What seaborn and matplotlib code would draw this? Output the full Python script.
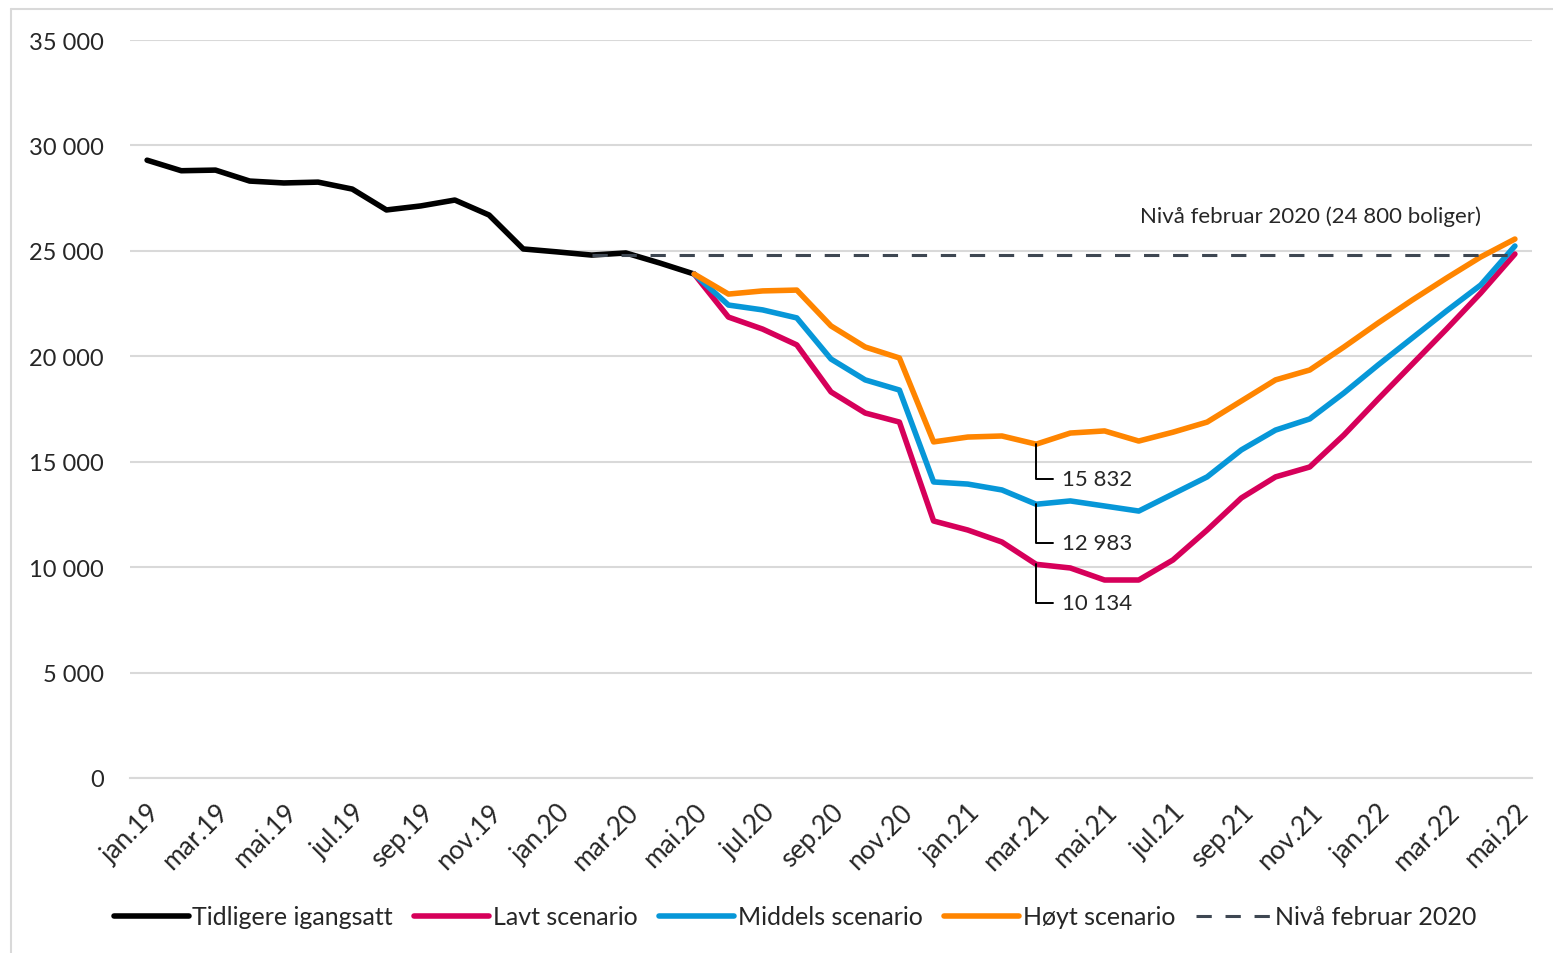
import numpy as np
import pandas as pd
import seaborn as sns
import matplotlib.pyplot as plt
from matplotlib.lines import Line2D

# ===============================
# Data
# ===============================
MONTHS = ["jan", "feb", "mar", "apr", "mai", "jun", "jul", "aug", "sep", "okt", "nov", "des"]
LABELS = [f"{m}.{y}" for y in (19, 20, 21) for m in MONTHS] + [f"{m}.22" for m in MONTHS[:5]]

tidligere = [29300, 28800, 28830, 28310, 28220, 28260, 27930, 26940, 27130, 27410,
             26700, 25090, 24950, 24800, 24900, 24420, 23900]

lavt = [23900, 21860, 21290, 20540, 18310, 17310, 16880, 12190, 11760, 11190, 10134,
        9960, 9390, 9390, 10340, 11760, 13280, 14280, 14750, 16270, 17970, 19630,
        21290, 23000, 24850]

middels = [23900, 22430, 22200, 21820, 19870, 18880, 18400, 14040, 13940, 13660, 12983,
           13140, 12900, 12660, 13470, 14280, 15560, 16500, 17030, 18260, 19590, 20870,
           22150, 23380, 25230]

hoyt = [23900, 22950, 23100, 23140, 21440, 20440, 19920, 15940, 16170, 16220, 15832,
        16360, 16460, 15980, 16400, 16880, 17880, 18880, 19350, 20440, 21580, 22670,
        23710, 24710, 25560]

NIVA_FEB20 = 24800
START_SCEN = LABELS.index("mai.20")
START_NIVA = LABELS.index("feb.20")
CALLOUT = LABELS.index("mar.21")

COLORS = {"Tidligere igangsatt": "#000000", "Lavt scenario": "#D6005A",
          "Middels scenario": "#0797D8", "Høyt scenario": "#FF8500",
          "Nivå februar 2020": "#3E4752"}

# ===============================
# Build frame
# ===============================
n = len(LABELS)
df = pd.DataFrame({"idx": np.arange(n), "label": LABELS})
df["Tidligere igangsatt"] = pd.Series(tidligere, index=range(len(tidligere)))
df["Lavt scenario"] = pd.Series(lavt, index=range(START_SCEN, START_SCEN + len(lavt)))
df["Middels scenario"] = pd.Series(middels, index=range(START_SCEN, START_SCEN + len(middels)))
df["Høyt scenario"] = pd.Series(hoyt, index=range(START_SCEN, START_SCEN + len(hoyt)))
df["Nivå februar 2020"] = np.where(df["idx"] >= START_NIVA, NIVA_FEB20, np.nan)

sns.set_style("white")
plt.rcParams["font.family"] = ["Lato", "DejaVu Sans"]

fig = plt.figure(figsize=(15.53, 9.54), dpi=100)
ax = fig.add_axes([130 / 1553, 1 - 779 / 954, 1402 / 1553, 738 / 954])

# ===============================
# Lines
# ===============================
for name, z in [("Tidligere igangsatt", 3), ("Lavt scenario", 4),
                ("Middels scenario", 5), ("Høyt scenario", 6)]:
    sub = df.dropna(subset=[name])
    sns.lineplot(data=sub, x="idx", y=name, color=COLORS[name], linewidth=4.0,
                 ax=ax, legend=False, zorder=z, solid_capstyle="round")

sub = df.dropna(subset=["Nivå februar 2020"])
sns.lineplot(data=sub, x="idx", y="Nivå februar 2020", color=COLORS["Nivå februar 2020"],
             linewidth=2.2, ax=ax, legend=False, zorder=7)
ax.lines[-1].set_dashes([5, 4.5])

# ===============================
# Axes styling
# ===============================
ax.set_xlim(-0.5, n - 0.5)
ax.set_ylim(0, 35000)
ax.set_yticks(np.arange(0, 35001, 5000))
ax.set_yticklabels([f"{v:,}".replace(",", " ") for v in range(0, 35001, 5000)])
ax.yaxis.grid(True, color="#d9d9d9", linewidth=1.5)
ax.tick_params(axis="y", length=0, pad=19, labelsize=17)

ax.set_xticks(np.arange(-0.5, n - 1, 2))
ax.set_xticklabels([])
ax.tick_params(axis="x", which="major", length=8, width=1.5, color="#d9d9d9")
ax.set_xticks(np.arange(0, n, 2), minor=True)
ax.set_xticklabels(LABELS[::2], minor=True, rotation=45, ha="right",
                   rotation_mode="anchor", fontsize=19)
ax.tick_params(axis="x", which="minor", length=0, pad=15)

for s in ["left", "right", "top"]:
    ax.spines[s].set_visible(False)
ax.spines["bottom"].set_color("#d9d9d9")
ax.spines["bottom"].set_linewidth(1.5)
ax.set_xlabel("")
ax.set_ylabel("")

# ===============================
# Annotations
# ===============================
ax.text(n - 2, 26650, "Nivå februar 2020 (24 800 boliger)", ha="right", va="center",
        fontsize=16)

for series, dy in [(hoyt, -35), (middels, -39), (lavt, -39)]:
    val = series[CALLOUT - START_SCEN]
    ax.annotate(f"{val:,}".replace(",", " "), xy=(CALLOUT, val),
                xytext=(26, dy), textcoords="offset pixels",
                ha="left", va="center", fontsize=16, zorder=8,
                arrowprops=dict(arrowstyle="-", color="black", lw=1.4,
                                shrinkA=4, shrinkB=0,
                                connectionstyle="angle,angleA=0,angleB=90,rad=0"))

# ===============================
# Legend
# ===============================
handles = []
for name in ["Tidligere igangsatt", "Lavt scenario", "Middels scenario", "Høyt scenario"]:
    handles.append(Line2D([], [], color=COLORS[name], linewidth=4.0, solid_capstyle="round"))
handles.append(Line2D([], [], color=COLORS["Nivå februar 2020"], linewidth=2.2,
                      dashes=[5, 4.5]))
fig.legend(handles, ["Tidligere igangsatt", "Lavt scenario", "Middels scenario",
                     "Høyt scenario", "Nivå februar 2020"],
           loc="center", bbox_to_anchor=(795 / 1553, 1 - 918 / 954), ncol=5,
           frameon=False, fontsize=18, handlelength=3.0, handletextpad=0.15,
           columnspacing=0.85)

# figure border (chart area frame)
fig.add_artist(Line2D([11 / 1553, 11 / 1553], [0, 1 - 10 / 954], color="#d9d9d9",
                      linewidth=1.5, transform=fig.transFigure))
fig.add_artist(Line2D([11 / 1553, 1], [1 - 10 / 954, 1 - 10 / 954], color="#d9d9d9",
                      linewidth=1.5, transform=fig.transFigure))

fig.savefig("out.png", dpi=100, facecolor="white")
